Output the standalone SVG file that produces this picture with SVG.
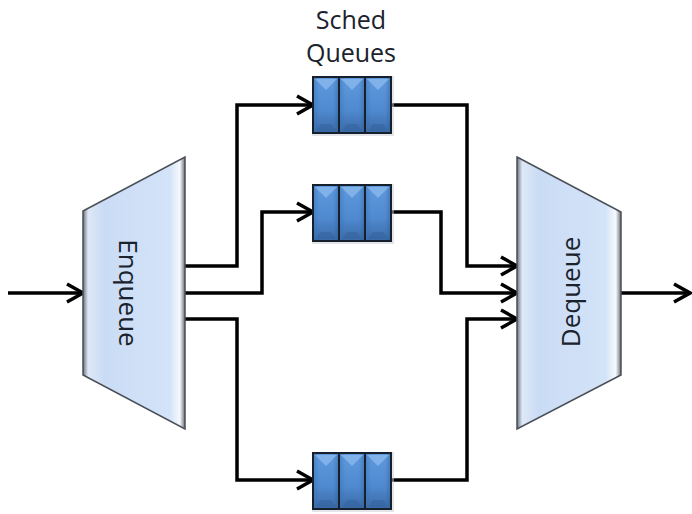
<svg xmlns="http://www.w3.org/2000/svg" xmlns:xlink="http://www.w3.org/1999/xlink" width="692" height="514" viewBox="0 0 692 514">
  <style>
    .conn { fill: none; stroke: #000; stroke-width: 3.5; stroke-linejoin: miter; }
    .lbl { font-family: "Open Sans", "Liberation Sans", sans-serif; fill: #1a222c; }
    .trap { stroke: #4a4f57; stroke-width: 1.5; }
  </style>
  <defs>
    <linearGradient id="gEnq" x1="0" y1="0" x2="1" y2="0">
      <stop offset="0" stop-color="#6d737c"/>
      <stop offset="0.05" stop-color="#dfe8f6"/>
      <stop offset="0.2" stop-color="#cadcf5"/>
      <stop offset="0.85" stop-color="#d3e3f8"/>
      <stop offset="0.95" stop-color="#f6f9fd"/>
      <stop offset="1" stop-color="#6a7079"/>
    </linearGradient>
    <linearGradient id="gCell" x1="0" y1="0" x2="0" y2="1">
      <stop offset="0" stop-color="#5f9ade"/>
      <stop offset="0.6" stop-color="#4f89cf"/>
      <stop offset="1" stop-color="#3a6aa6"/>
    </linearGradient>
    <linearGradient id="gSide" x1="0" y1="0" x2="1" y2="0">
      <stop offset="0" stop-color="#3a6eae" stop-opacity="0.5"/>
      <stop offset="0.25" stop-color="#3a6eae" stop-opacity="0"/>
      <stop offset="0.75" stop-color="#3a6eae" stop-opacity="0"/>
      <stop offset="1" stop-color="#2c578c" stop-opacity="0.5"/>
    </linearGradient>
    <marker id="arr" markerUnits="userSpaceOnUse" markerWidth="24" markerHeight="24" viewBox="0 0 24 24" refX="20" refY="12" orient="auto">
      <path d="M4,3 L20,12 L4,21" fill="none" stroke="#000" stroke-width="3.5"/>
    </marker>
    <g id="cell">
      <rect x="0" y="0" width="26" height="56" fill="url(#gCell)"/>
      <rect x="0" y="0" width="26" height="56" fill="url(#gSide)"/>
      <polygon points="2,2 24,2 13,13" fill="#8ab9ec" opacity="0.8"/>
      <polygon points="3,54 23,54 18,47 8,47" fill="#34619a" opacity="0.5"/>
    </g>
    <g id="queue">
      <rect x="-1" y="-1" width="82" height="60" fill="#c8ccd2" opacity="0.5"/>
      <use xlink:href="#cell" x="0" y="0"/>
      <use xlink:href="#cell" x="26" y="0"/>
      <use xlink:href="#cell" x="52" y="0"/>
      <rect x="0" y="0" width="78" height="56" fill="none" stroke="#15202c" stroke-width="2"/>
      <line x1="26" y1="0" x2="26" y2="56" stroke="#15202c" stroke-width="2"/>
      <line x1="52" y1="0" x2="52" y2="56" stroke="#15202c" stroke-width="2"/>
    </g>
  </defs>

  <g id="connectors">
    <path class="conn" d="M8,293 H83" marker-end="url(#arr)"/>
    <path class="conn" d="M621,293 H690" marker-end="url(#arr)"/>
    <path class="conn" d="M185,266 H237 V105 H313" marker-end="url(#arr)"/>
    <path class="conn" d="M185,293 H262 V212 H313" marker-end="url(#arr)"/>
    <path class="conn" d="M185,319 H237 V480 H313" marker-end="url(#arr)"/>
    <path class="conn" d="M391,105 H467 V266 H517" marker-end="url(#arr)"/>
    <path class="conn" d="M391,212 H441 V293 H517" marker-end="url(#arr)"/>
    <path class="conn" d="M391,480 H467 V319 H517" marker-end="url(#arr)"/>
  </g>

  <g id="enqueue">
    <polygon class="trap" points="83,211 185,157 185,429 83,375" fill="url(#gEnq)"/>
    <text class="lbl" font-size="26" text-anchor="middle" dominant-baseline="central" transform="translate(129,293) rotate(90)">Enqueue</text>
  </g>

  <g id="dequeue">
    <polygon class="trap" points="517,157 621,212 621,375 517,429" fill="url(#gEnq)"/>
    <text class="lbl" font-size="26" text-anchor="middle" dominant-baseline="central" transform="translate(570,292) rotate(-90)">Dequeue</text>
  </g>

  <g id="queue1">
    <use xlink:href="#queue" x="313" y="77"/>
  </g>
  <g id="queue2">
    <use xlink:href="#queue" x="313" y="185"/>
  </g>
  <g id="queue3">
    <use xlink:href="#queue" x="313" y="453"/>
  </g>

  <g id="title">
    <text class="lbl" font-size="25" text-anchor="middle" x="351" y="29">Sched</text>
    <text class="lbl" font-size="25" text-anchor="middle" x="351" y="62">Queues</text>
  </g>
</svg>
